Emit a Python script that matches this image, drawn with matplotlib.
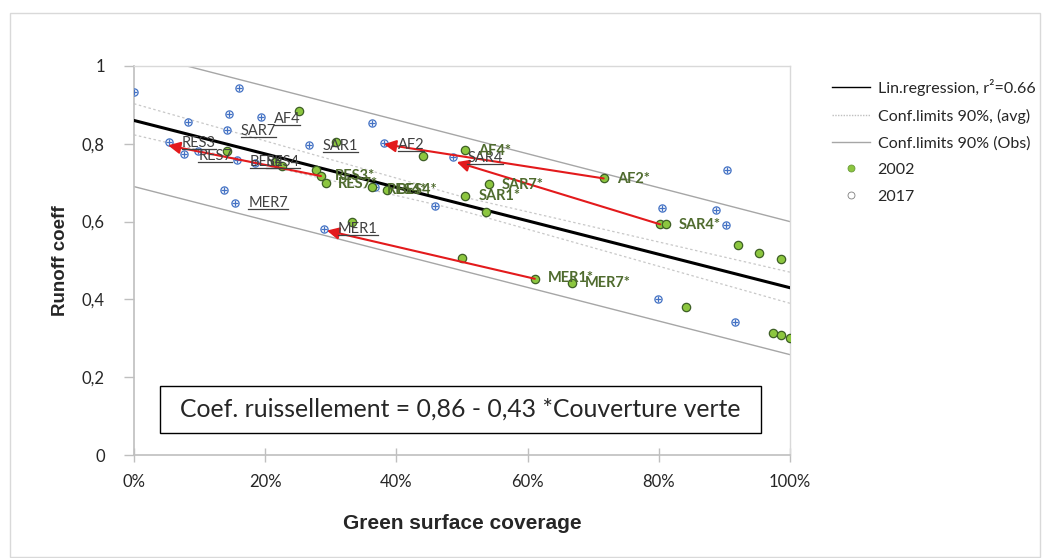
import numpy as np
import matplotlib
matplotlib.use('Agg')
import matplotlib.pyplot as plt
from matplotlib.lines import Line2D
from matplotlib.patches import Rectangle
from matplotlib.ticker import FuncFormatter

# 2017 measurements (green coverage, runoff coeff)
x_2017 = [0.000, 0.160, 0.145, 0.193, 0.082, 0.142, 0.267, 0.053, 0.076, 0.098,
          0.157, 0.184, 0.137, 0.154, 0.290, 0.363, 0.367, 0.381, 0.486, 0.459,
          0.904, 0.805, 0.887, 0.902, 0.799, 0.916]
y_2017 = [0.933, 0.943, 0.876, 0.868, 0.856, 0.835, 0.796, 0.804, 0.773, 0.781,
          0.758, 0.750, 0.680, 0.647, 0.582, 0.853, 0.688, 0.801, 0.765, 0.639,
          0.732, 0.634, 0.631, 0.590, 0.402, 0.343]

# 2002 measurements
x_2002 = [0.252, 0.308, 0.142, 0.215, 0.226, 0.277, 0.285, 0.293, 0.363, 0.386,
          0.332, 0.441, 0.504, 0.541, 0.505, 0.537, 0.500, 0.716, 0.802, 0.811,
          0.921, 0.953, 0.986, 0.611, 0.668, 0.841, 0.974, 0.986, 1.000]
y_2002 = [0.884, 0.804, 0.781, 0.753, 0.742, 0.732, 0.717, 0.698, 0.688, 0.681,
          0.598, 0.768, 0.784, 0.696, 0.665, 0.624, 0.506, 0.711, 0.593, 0.593,
          0.539, 0.518, 0.503, 0.453, 0.443, 0.381, 0.314, 0.309, 0.302]

# regression and confidence limits (read at x = 0, 0.5, 1)
band_x = [0.0, 0.5, 1.0]
reg_y = [0.86, 0.645, 0.43]
avg_hi = [0.903, 0.664, 0.470]
avg_lo = [0.823, 0.628, 0.390]
obs_hi = [1.035, 0.818, 0.600]
obs_lo = [0.690, 0.474, 0.258]

# red arrows: 2002 -> 2017
arrow_x0 = [0.716, 0.802, 0.611, 0.285]
arrow_y0 = [0.711, 0.593, 0.453, 0.717]
arrow_x1 = [0.381, 0.492, 0.294, 0.052]
arrow_y1 = [0.799, 0.753, 0.577, 0.796]

# labels
lab_2017 = ['AF4', 'SAR7', 'RES3', 'RES7', 'BES4', 'RES4', 'SAR1', 'MER7', 'MER1', 'AF2', 'SAR4']
lab_2017_x = [0.213, 0.163, 0.073, 0.098, 0.177, 0.201, 0.288, 0.174, 0.311, 0.402, 0.508]
lab_2017_y = [0.863, 0.832, 0.802, 0.768, 0.753, 0.753, 0.794, 0.647, 0.580, 0.796, 0.763]

lab_2002 = ['AF4*', 'AF2*', 'SAR7*', 'SAR1*', 'SAR4*', 'MER1*', 'MER7*', 'RES3*', 'RES7*', 'RES4*', 'BES4*']
lab_2002_x = [0.524, 0.736, 0.561, 0.526, 0.831, 0.631, 0.688, 0.306, 0.311, 0.386, 0.401]
lab_2002_y = [0.781, 0.709, 0.693, 0.665, 0.590, 0.454, 0.441, 0.716, 0.696, 0.680, 0.680]

W, H = 1046, 558
fig = plt.figure(figsize=(W / 100, H / 100), dpi=100)
ax = fig.add_axes([134 / W, 1 - 455 / H, (790 - 134) / W, (455 - 66) / H])

# outer chart frame
fig.add_artist(Rectangle((10 / W, 1 - 557 / H), 1030 / W, 544 / H, transform=fig.transFigure,
                         fill=False, edgecolor='#D9D9D9', lw=1))

ax.plot(band_x, obs_hi, color='#A6A6A6', lw=1, zorder=2)
ax.plot(band_x, obs_lo, color='#A6A6A6', lw=1, zorder=2)
ax.plot(band_x, avg_hi, color='#C8C8C8', lw=0.9, ls=(0, (2, 2)), zorder=2)
ax.plot(band_x, avg_lo, color='#C8C8C8', lw=0.9, ls=(0, (2, 2)), zorder=2)
ax.plot(band_x, reg_y, color='black', lw=2.2, zorder=3)

ax.plot(x_2017, y_2017, 'o', ms=5.2, mfc='white', mec='#4472C4', mew=0.9, zorder=4)
ax.plot(x_2017, y_2017, '+', ms=5, mec='#4472C4', mew=0.9, zorder=5)
ax.plot(x_2002, y_2002, 'o', ms=6, mfc='#8CC63F', mec='#3E5F26', mew=0.9, zorder=6)

for x0, y0, x1, y1 in zip(arrow_x0, arrow_y0, arrow_x1, arrow_y1):
    ax.annotate('', xy=(x1, y1), xytext=(x0, y0),
                arrowprops=dict(arrowstyle='-|>', color='#E31A1C', lw=1.5,
                                mutation_scale=18, shrinkA=0, shrinkB=0),
                zorder=7)

under = []
for t, x, y in zip(lab_2017, lab_2017_x, lab_2017_y):
    under.append(ax.text(x, y, t, family='Lato', fontsize=10.5, color='#404040',
                         ha='left', va='center', zorder=8))
for t, x, y in zip(lab_2002, lab_2002_x, lab_2002_y):
    ax.text(x, y, t, family='Lato', fontsize=10.5, fontweight='bold', color='#4F6B2E',
            ha='left', va='center', zorder=8)

# equation box
ax.add_patch(Rectangle((0.0396, 0.057), 0.9164, 0.121, fill=False, edgecolor='black', lw=1, zorder=9))
ax.text(0.4978, 0.118, 'Coef. ruissellement = 0,86 - 0,43 *Couverture verte', family='Lato',
        fontsize=17.8, color='#262626', ha='center', va='center', zorder=9)

ax.set_xlim(0, 1)
ax.set_ylim(0, 1)
ax.set_xticks([0, 0.2, 0.4, 0.6, 0.8, 1.0])
ax.set_yticks([0, 0.2, 0.4, 0.6, 0.8, 1.0])
ax.xaxis.set_major_formatter(FuncFormatter(lambda v, p: '%d%%' % round(v * 100)))
ax.yaxis.set_major_formatter(FuncFormatter(lambda v, p: ('%g' % round(v, 1)).replace('.', ',')))
ax.tick_params(axis='x', direction='inout', length=10, width=1, color='#BFBFBF',
               labelsize=12, labelcolor='#262626', pad=9)
ax.tick_params(axis='y', direction='out', length=7, width=1, color='#BFBFBF',
               labelsize=12, labelcolor='#262626', pad=14)
for lab in ax.get_xticklabels() + ax.get_yticklabels():
    lab.set_family('Lato')
for s in ['left', 'bottom']:
    ax.spines[s].set_color('#BFBFBF')
    ax.spines[s].set_linewidth(1.2)
for s in ['top', 'right']:
    ax.spines[s].set_color('#D9D9D9')
    ax.spines[s].set_linewidth(1)

ax.set_xlabel('Green surface coverage', family='Liberation Sans', fontweight='bold',
              fontsize=15, color='#262626', labelpad=17)
ax.set_ylabel('Runoff coeff', family='Liberation Sans', fontweight='bold',
              fontsize=13.5, color='#262626', labelpad=9)

handles = [
    Line2D([], [], color='black', lw=1),
    Line2D([], [], color='#BFBFBF', lw=1, ls=(0, (1, 1))),
    Line2D([], [], color='#A6A6A6', lw=1),
    Line2D([], [], ls='', marker='o', ms=5, mfc='#8CC63F', mec='#6A9A3A', mew=0.6),
    Line2D([], [], ls='', marker='o', ms=5, mfc='white', mec='#7F7F7F', mew=0.6),
]
names = ['Lin.regression, r²=0.66', 'Conf.limits 90%, (avg)', 'Conf.limits 90% (Obs)', '2002', '2017']
fig.legend(handles, names, loc='upper left', bbox_to_anchor=(824 / W, 1 - 71 / H),
           frameon=False, prop={'family': 'Lato', 'size': 11.5}, labelcolor='#262626',
           handlelength=2.4, handletextpad=0.45, labelspacing=0.78, borderpad=0)

# underline the 2017 labels
fig.canvas.draw()
r = fig.canvas.get_renderer()
for t in under:
    bb = t.get_window_extent(r)
    yy = (bb.y0 + 1) / H
    fig.add_artist(Line2D([bb.x0 / W, bb.x1 / W], [yy, yy], transform=fig.transFigure,
                          color='#404040', lw=0.9, zorder=8))

fig.savefig('out.png', dpi=100, facecolor='white')
